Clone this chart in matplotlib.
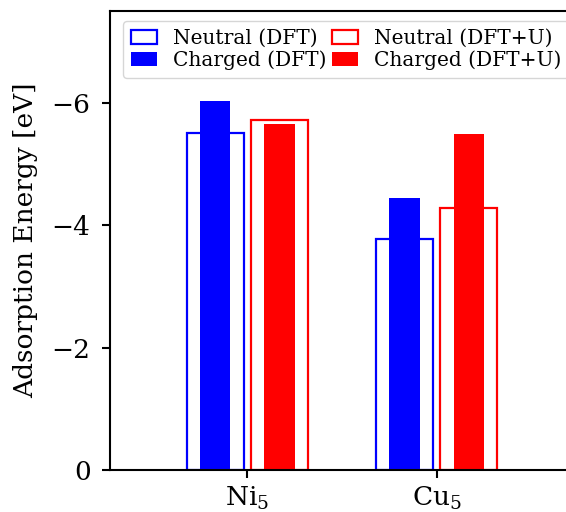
import matplotlib
matplotlib.use('Agg')
import matplotlib.pyplot as plt
import numpy as np

plt.rcParams['font.family'] = 'DejaVu Serif'
plt.rcParams['mathtext.fontset'] = 'dejavuserif'

clusters = ['Ni$_5$', 'Cu$_5$']
neutral_dft = [-5.50, -3.77]
charged_dft = [-6.03, -4.44]
neutral_dftu = [-5.72, -4.28]
charged_dftu = [-5.66, -5.49]

x = np.arange(len(clusters))
off = 0.17
w_open = 0.3
w_fill = 0.16

fig = plt.figure(figsize=(5.66, 5.12), dpi=100)
# right spine sits just past the picture edge, like the cropped original
ax = fig.add_axes([110/566, 42/512, 464/566, 459/512])

# hollow bars first, filled ones on top
ax.bar(x - off, neutral_dft, w_open, facecolor='none', edgecolor='blue', linewidth=1.6, label='Neutral (DFT)')
ax.bar(x - off, charged_dft, w_fill, color='blue', label='Charged (DFT)')
ax.bar(x + off, neutral_dftu, w_open, facecolor='none', edgecolor='red', linewidth=1.6, label='Neutral (DFT+U)')
ax.bar(x + off, charged_dftu, w_fill, color='red', label='Charged (DFT+U)')

ax.set_xticks(x)
ax.set_xticklabels(clusters, fontsize=19)
ax.set_yticks([0, -2, -4, -6])
ax.set_yticklabels(['0', '\u22122', '\u22124', '\u22126'], fontsize=19)
ax.set_xlim(-0.725, 1.725)
ax.set_ylim(0, -7.5)
ax.set_ylabel('Adsorption Energy [eV]', fontsize=19, labelpad=10)
ax.tick_params(length=6, width=1.5, pad=8)
ax.tick_params(axis='x', pad=5)
for s in ax.spines.values():
    s.set_linewidth(1.5)

ax.legend(ncol=2, loc='upper right', bbox_to_anchor=(1.012, 1.0), fontsize=14.5,
          columnspacing=0.3, handlelength=1.28, handletextpad=0.8,
          labelspacing=0.12, borderaxespad=0.5, borderpad=0.4)

fig.savefig('out.png', dpi=100)
